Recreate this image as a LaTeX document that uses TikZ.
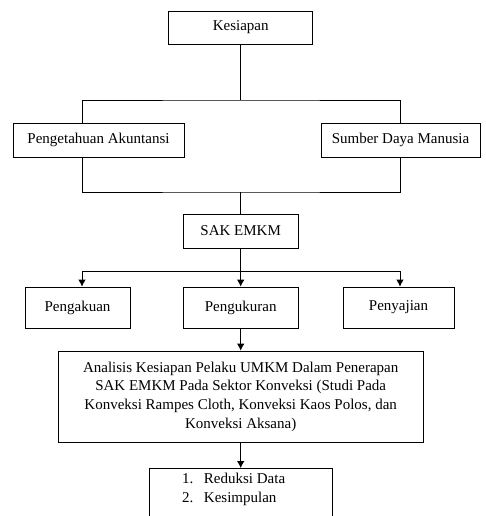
\documentclass[tikz,border=0pt]{standalone}
\usepackage{fontspec}
\setmainfont{Liberation Serif}
\tikzset{
  kotak/.style={draw=black, line width=0.8pt, fill=white, align=center, inner sep=0pt,
    font=\fontsize{15}{18.7}\selectfont},
  garis/.style={line width=0.8pt},
  panah/.style={garis, -{Latex[length=7pt,width=7.5pt]}}
}
\usetikzlibrary{arrows.meta}
\begin{document}
\begin{tikzpicture}[x=1pt,y=-1pt]
\clip (0,0) rectangle (485,516);
% kotak utama
\node[kotak, minimum width=144, minimum height=33] (kesiapan) at (240.7,27.5) {Kesiapan};
\node[kotak, minimum width=171, minimum height=34] (pengetahuan) at (98.5,140) {Pengetahuan Akuntansi};
\node[kotak, minimum width=159, minimum height=34] (sdm) at (400.5,140) {Sumber Daya Manusia};
\node[kotak, minimum width=115, minimum height=34] (sak) at (240.7,231) {SAK EMKM};
\node[kotak, minimum width=105, minimum height=41] (pengakuan) at (77.5,307.5) {Pengakuan};
\node[kotak, minimum width=115, minimum height=41] (pengukuran) at (240.7,307.5) {Pengukuran};
\node[kotak, minimum width=111, minimum height=41] (penyajian) at (398.5,307.5) {Penyajian};
\node[kotak, minimum width=365, minimum height=91] (analisis) at (240.7,396.5)
  {Analisis Kesiapan Pelaku UMKM Dalam Penerapan\\
   SAK EMKM Pada Sektor Konveksi (Studi Pada\\
   Konveksi Rampes Cloth, Konveksi Kaos Polos, dan\\
   Konveksi Aksana)};
\node[kotak, minimum width=183, minimum height=70, anchor=north] (hasil) at (240.7,468) {};
\node[font=\fontsize{15}{18.7}\selectfont, anchor=north west, align=left, inner sep=0pt]
  (daftar) at (182,473) {1.\hspace{10.5pt}Reduksi Data\\2.\hspace{10.5pt}Kesimpulan};
% percabangan
\coordinate (c1) at (240.7,100);
\coordinate (c2) at (240.7,192);
\coordinate (c3) at (240.7,271);
\draw[garis] (kesiapan.south) -- (c1);
\draw[garis] (pengetahuan.north -| 82,0) |- (c1) -| (sdm.north -| 400,0);
\draw[garis] (pengetahuan.south -| 82,0) |- (c2) -| (sdm.south -| 400,0);
\draw[garis] (c2) -- (sak.north);
\draw[garis] (sak.south) -- (c3);
\draw[garis] (82,271) -- (400,271);
\draw[panah] (c3) -- (pengukuran.north);
\draw[panah] (82,271) -- (pengakuan.north -| 82,0);
\draw[panah] (400,271) -- (penyajian.north -| 400,0);
\draw[panah] (pengukuran.south) -- (analisis.north);
\draw[panah] (analisis.south) -- (hasil.north);
\end{tikzpicture}
\end{document}
